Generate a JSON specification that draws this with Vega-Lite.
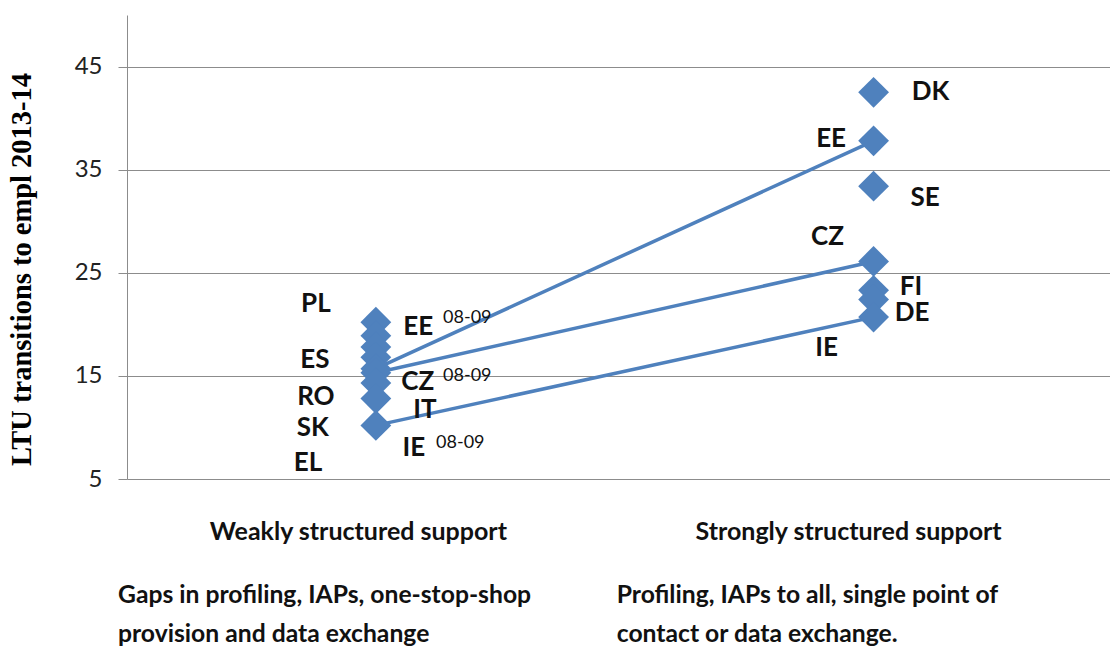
{
  "$schema": "https://vega.github.io/schema/vega-lite/v6.json",
  "width": 983,
  "height": 464,
  "autosize": {"type": "none"},
  "padding": {"left": 127, "top": 15, "right": 0, "bottom": 167},
  "background": "white",
  "config": {"view": {"stroke": null}, "font": "Lato"},
  "datasets": {
    "points": [
      {"group": 1, "country": "PL", "value": 20.2},
      {"group": 1, "country": "ES", "value": 18.9},
      {"group": 1, "country": "RO", "value": 17.8},
      {"group": 1, "country": "IT", "value": 16.8},
      {"group": 1, "country": "EE 08-09", "value": 15.7, "pair": "EE"},
      {"group": 1, "country": "CZ 08-09", "value": 15.3, "pair": "CZ"},
      {"group": 1, "country": "SK", "value": 14.3},
      {"group": 1, "country": "EL", "value": 12.8},
      {"group": 1, "country": "IE 08-09", "value": 10.2, "pair": "IE"},
      {"group": 2, "country": "DK", "value": 42.5},
      {"group": 2, "country": "EE", "value": 37.8, "pair": "EE"},
      {"group": 2, "country": "SE", "value": 33.4},
      {"group": 2, "country": "CZ", "value": 26.1, "pair": "CZ"},
      {"group": 2, "country": "FI", "value": 23.3},
      {"group": 2, "country": "DE", "value": 22.4},
      {"group": 2, "country": "IE", "value": 20.7, "pair": "IE"}
    ],
    "labels": [
      {"label": "PL", "lx": 0.8795, "ly": 21.97},
      {"label": "ES", "lx": 0.8775, "ly": 16.54},
      {"label": "RO", "lx": 0.8795, "ly": 12.95},
      {"label": "SK", "lx": 0.8735, "ly": 9.95},
      {"label": "EL", "lx": 0.8635, "ly": 6.55},
      {"label": "EE", "lx": 1.0853, "ly": 19.74},
      {"label": "CZ", "lx": 1.0843, "ly": 14.41},
      {"label": "IT", "lx": 1.0984, "ly": 11.69},
      {"label": "IE", "lx": 1.0763, "ly": 8.01},
      {"label": "DK", "lx": 2.1145, "ly": 42.53},
      {"label": "EE", "lx": 1.9147, "ly": 37.97},
      {"label": "SE", "lx": 2.1034, "ly": 32.25},
      {"label": "CZ", "lx": 1.9076, "ly": 28.47},
      {"label": "FI", "lx": 2.0753, "ly": 23.62},
      {"label": "DE", "lx": 2.0773, "ly": 21.1},
      {"label": "IE", "lx": 1.9056, "ly": 17.7}
    ],
    "sups": [
      {"label": "08-09", "lx": 1.1837, "ly": 20.61},
      {"label": "08-09", "lx": 1.1837, "ly": 14.99},
      {"label": "08-09", "lx": 1.1697, "ly": 8.49}
    ],
    "headings": [
      {"text": "Weakly structured support", "nx": 0.9649, "ny": -0.14},
      {"text": "Strongly structured support", "nx": 1.9498, "ny": -0.14}
    ],
    "notes": [
      {"text": "Gaps in profiling, IAPs, one-stop-shop", "nx": 0.4819, "ny": -6.35},
      {"text": "provision and data exchange", "nx": 0.4819, "ny": -10.13},
      {"text": "Profiling, IAPs to all, single point of", "nx": 1.4839, "ny": -6.35},
      {"text": "contact or data exchange.", "nx": 1.4839, "ny": -10.13}
    ]
  },
  "layer": [
    {
      "data": {"name": "points"},
      "transform": [{"filter": "datum.pair != null"}],
      "mark": {"type": "line", "color": "#4F81BD", "strokeWidth": 3.5},
      "encoding": {
        "x": {"field": "group", "type": "quantitative", "scale": {"domain": [0.5, 2.475], "nice": false, "zero": false}, "axis": null},
        "y": {
          "field": "value", "type": "quantitative",
          "scale": {"domain": [5, 50], "nice": false, "zero": false},
          "title": "LTU transitions to empl 2013-14",
          "axis": {
            "values": [5, 15, 25, 35, 45],
            "grid": true, "gridColor": "#8c8c8c", "gridWidth": 1,
            "domainColor": "#8c8c8c", "domainWidth": 1,
            "tickColor": "#8c8c8c", "tickSize": 9,
            "labelFont": "Lato", "labelFontSize": 24, "labelColor": "#222222", "labelPadding": 16,
            "titleFont": "Liberation Serif", "titleFontWeight": "bold", "titleFontSize": 28.5, "titleColor": "#000000",
            "titleAngle": -90, "titleX": -106, "titleY": 254, "titleAlign": "center", "titleBaseline": "middle"
          }
        },
        "detail": {"field": "pair"}
      }
    },
    {
      "data": {"name": "points"},
      "mark": {"type": "point", "shape": "diamond", "filled": true, "size": 950, "color": "#4F81BD", "opacity": 1},
      "encoding": {
        "x": {"field": "group", "type": "quantitative", "axis": null},
        "y": {"field": "value", "type": "quantitative", "title": "LTU transitions to empl 2013-14"}
      }
    },
    {
      "data": {"name": "labels"},
      "mark": {"type": "text", "font": "Lato", "fontWeight": "bold", "fontSize": 26, "color": "#111111", "align": "center", "baseline": "middle"},
      "encoding": {
        "x": {"field": "lx", "type": "quantitative", "axis": null},
        "y": {"field": "ly", "type": "quantitative", "title": "LTU transitions to empl 2013-14"},
        "text": {"field": "label"}
      }
    },
    {
      "data": {"name": "sups"},
      "mark": {"type": "text", "font": "Lato", "fontSize": 18, "color": "#111111", "align": "center", "baseline": "middle"},
      "encoding": {
        "x": {"field": "lx", "type": "quantitative", "axis": null},
        "y": {"field": "ly", "type": "quantitative", "title": "LTU transitions to empl 2013-14"},
        "text": {"field": "label"}
      }
    },
    {
      "data": {"name": "headings"},
      "mark": {"type": "text", "font": "Lato", "fontWeight": "bold", "fontSize": 25, "color": "#111111", "align": "center", "baseline": "middle"},
      "encoding": {
        "x": {"field": "nx", "type": "quantitative", "axis": null},
        "y": {"field": "ny", "type": "quantitative", "title": "LTU transitions to empl 2013-14"},
        "text": {"field": "text"}
      }
    },
    {
      "data": {"name": "notes"},
      "mark": {"type": "text", "font": "Lato", "fontWeight": "bold", "fontSize": 24.7, "color": "#111111", "align": "left", "baseline": "middle"},
      "encoding": {
        "x": {"field": "nx", "type": "quantitative", "axis": null},
        "y": {"field": "ny", "type": "quantitative", "title": "LTU transitions to empl 2013-14"},
        "text": {"field": "text"}
      }
    }
  ]
}
